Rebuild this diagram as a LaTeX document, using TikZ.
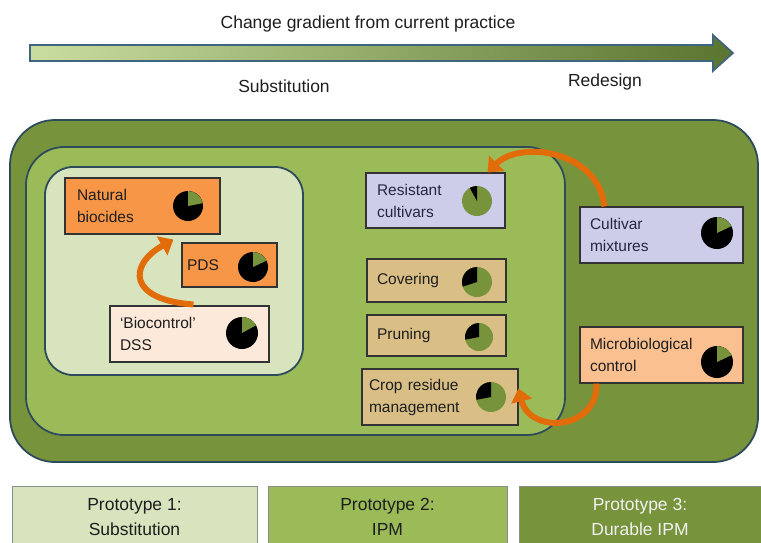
\documentclass[tikz,border=0pt]{standalone}
\usepackage{fontspec}
\setmainfont{Liberation Sans}
\usetikzlibrary{arrows.meta}
\definecolor{pthree}{HTML}{77933C}
\definecolor{ptwo}{HTML}{9BBB59}
\definecolor{pone}{HTML}{D7E4BD}
\definecolor{framec}{HTML}{2E4B5B}
\definecolor{orangeF}{HTML}{F79646}
\definecolor{peachL}{HTML}{FDE9D9}
\definecolor{peachM}{HTML}{FAC090}
\definecolor{lav}{HTML}{CDCDE9}
\definecolor{tanF}{HTML}{D9BF86}
\definecolor{arrowO}{HTML}{E36C0A}
\definecolor{pieg}{HTML}{77933C}
\definecolor{gradL}{HTML}{C9DD9F}
\definecolor{gradR}{HTML}{5A7530}
\definecolor{gradB}{HTML}{3E6480}
\definecolor{txtd}{HTML}{1E1E1E}
\definecolor{txtn}{HTML}{262640}
\newcommand\mypieG[4]{% green fraction, rest black
  \fill[black] (#1,-#2) circle (#3);
  \fill[pieg] (#1,-#2) -- ++(90:#3) arc[start angle=90, end angle={90-360*#4}, radius=#3] -- cycle;}
\newcommand\mypieB[4]{% black fraction, rest green
  \fill[pieg] (#1,-#2) circle (#3);
  \fill[black] (#1,-#2) -- ++(90:#3) arc[start angle=90, end angle={90+360*#4}, radius=#3] -- cycle;}
\begin{document}
\begin{tikzpicture}[x=1pt,y=1pt,
  container/.style={draw=framec, line width=1.8pt},
  itembox/.style={draw=black!80, line width=1.1pt, align=left, inner ysep=0pt,
     font=\fontsize{15.5}{22}\selectfont, text=txtd},
  protobox/.style={draw=black!45, line width=1pt},
  prototext/.style={align=center, inner sep=0pt, anchor=north, font=\fontsize{17.5}{25}\selectfont},
  toptext/.style={inner sep=0pt, font=\fontsize{17.5}{22}\selectfont, text=txtd},
  oarrow/.style={draw=arrowO, line width=6pt, -{Triangle[length=13pt,width=21pt]}}]
\useasboundingbox (0,0) rectangle (761,-542);
\fill[white] (0,0) rectangle (761,-542);

% gradient arrow
\shade[left color=gradL, right color=gradR] (30,-45) -- (713,-45) -- (713,-35) -- (733,-53) -- (713,-71) -- (713,-61) -- (30,-61) -- cycle;
\draw[gradB, line width=1.6pt, line join=miter] (30,-45) -- (713,-45) -- (713,-35) -- (733,-53) -- (713,-71) -- (713,-61) -- (30,-61) -- cycle;
\node[toptext] (title) at (368,-24) {Change gradient from current practice};
\node[toptext] (subst) at (284,-86) {Substitution};
\node[toptext] (redes) at (605,-82) {Redesign};

% containers
\draw[container, fill=pthree, rounded corners=45pt] (10,-120) rectangle (758,-462);
\draw[container, fill=ptwo, rounded corners=38pt] (26,-147) rectangle (565,-435);
\draw[container, fill=pone, rounded corners=28pt] (45,-167) rectangle (303,-375);

% item boxes
\node[itembox, fill=orangeF, minimum width=155pt, minimum height=56pt, inner xsep=12pt, text width=131pt] (nb) at (142.5,-206) {Natural\\biocides};
\node[itembox, fill=orangeF, minimum width=95pt, minimum height=44pt, inner xsep=5pt, text width=85pt] (pds) at (229.5,-265) {PDS};
\node[itembox, fill=peachL, minimum width=159pt, minimum height=56pt, inner xsep=10pt, text width=139pt] (dss) at (189.5,-334) {‘Biocontrol’\\DSS};
\node[itembox, fill=lav, text=txtn, minimum width=139pt, minimum height=55pt, inner xsep=11pt, text width=117pt] (rc) at (435.5,-200.5) {Resistant\\cultivars};
\node[itembox, fill=tanF, minimum width=139pt, minimum height=43pt, inner xsep=10pt, text width=119pt] (cov) at (436.5,-280.5) {Covering};
\node[itembox, fill=tanF, minimum width=139pt, minimum height=41pt, inner xsep=10pt, text width=119pt] (pru) at (436.5,-335.5) {Pruning};
\node[itembox, fill=tanF, minimum width=156pt, minimum height=56pt, inner xsep=7pt, text width=142pt] (crop) at (440,-397) {Crop residue\\management};
\node[itembox, fill=lav, text=txtn, minimum width=163pt, minimum height=56pt, inner xsep=10pt, text width=143pt] (cm) at (661.5,-235) {Cultivar\\mixtures};
\node[itembox, fill=peachM, minimum width=163pt, minimum height=56pt, inner xsep=10pt, text width=143pt] (mc) at (661.5,-355) {Microbiological\\control};

% pies
\mypieG{188}{206}{15}{0.22}
\mypieG{253}{267}{15}{0.18}
\mypieG{242}{333}{16}{0.17}
\mypieB{477}{201}{15}{0.08}
\mypieB{477}{282}{15}{0.30}
\mypieB{479}{337}{14}{0.28}
\mypieB{491}{397}{15}{0.28}
\mypieG{717}{233}{16}{0.18}
\mypieG{717}{362}{16}{0.18}

% orange arrows
\draw[oarrow] ([xshift=84pt,yshift=1pt]dss.north west) .. controls (128,-300) and (128,-265) .. ([xshift=109pt,yshift=-5pt]nb.south west);
\draw[oarrow] ([xshift=25pt]cm.north west) .. controls (598,-150) and (520,-140) .. ([xshift=-18pt]rc.north east);
\draw[oarrow] ([xshift=17pt]mc.south west) .. controls (598,-430) and (530,-435) .. ([yshift=-20pt]crop.north east);

% prototype legend boxes
\draw[protobox, fill=pone] (12,-486) rectangle (257,-548);
\draw[protobox, fill=ptwo] (268,-486) rectangle (507,-548);
\draw[protobox, fill=pthree] (519,-486) rectangle (770,-548);
\node[prototext, text=txtd] (p1) at (134.5,-498) {Prototype 1:\\Substitution};
\node[prototext, text=txtd] (p2) at (387.5,-498) {Prototype 2:\\IPM};
\node[prototext, text=white!95!black] (p3) at (640,-498) {Prototype 3:\\Durable IPM};
\end{tikzpicture}
\end{document}
